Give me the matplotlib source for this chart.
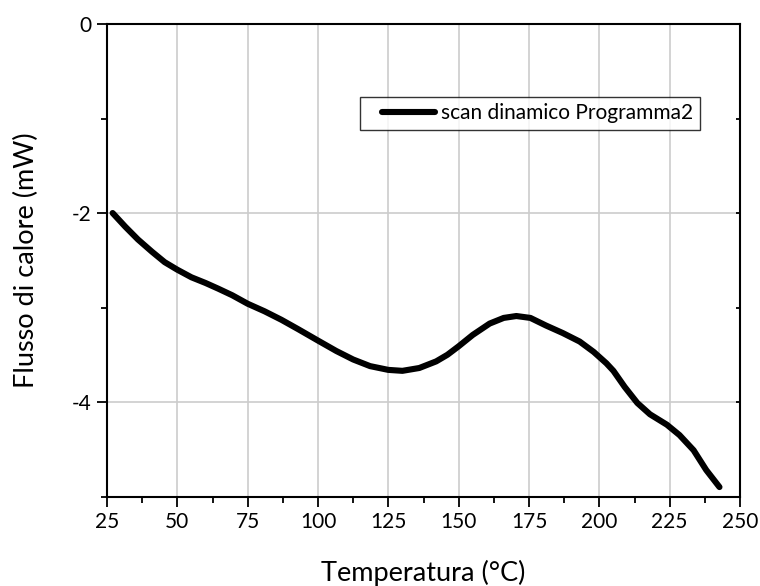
import matplotlib.pyplot as plt
from matplotlib.ticker import MultipleLocator
from matplotlib.legend_handler import HandlerLine2D

# scansione DSC dinamica, Programma2
temperatura = [27, 31.5, 36, 41, 45.5, 50, 55, 60, 64.5, 69.5, 75, 81, 87, 93, 100,
               106.5, 112.5, 118.5, 125, 130, 136, 142, 146, 150, 155, 161, 166,
               170.5, 175.5, 181, 187, 193, 198, 202.5, 205, 209, 213.5, 218, 224,
               228.5, 233.5, 238, 242.7]
flusso = [-2.00, -2.145, -2.28, -2.41, -2.52, -2.60, -2.68, -2.74, -2.80, -2.87, -2.96,
          -3.04, -3.13, -3.23, -3.35, -3.46, -3.55, -3.62, -3.66, -3.67, -3.64, -3.57,
          -3.50, -3.41, -3.29, -3.17, -3.11, -3.09, -3.11, -3.19, -3.27, -3.36, -3.47,
          -3.59, -3.67, -3.84, -4.01, -4.13, -4.24, -4.35, -4.51, -4.72, -4.90]

plt.rcParams['font.family'] = ['Lato', 'DejaVu Sans']
plt.rcParams['axes.unicode_minus'] = False

fig = plt.figure(figsize=(7.6, 5.86), dpi=100)
ax = fig.add_axes([0.1408, 0.1527, 0.8329, 0.8063])

ax.plot(temperatura, flusso, color='black', linewidth=4.4,
        solid_capstyle='round', solid_joinstyle='round', label='scan dinamico Programma2')

ax.set_xlim(25, 250)
ax.set_ylim(-5, 0)
ax.xaxis.set_major_locator(MultipleLocator(25))
ax.xaxis.set_minor_locator(MultipleLocator(12.5))
ax.yaxis.set_major_locator(MultipleLocator(2))
ax.yaxis.set_minor_locator(MultipleLocator(1))

ax.grid(True, which='major', color='#cccccc', linewidth=1.2)
ax.set_axisbelow(True)

for s in ax.spines.values():
    s.set_linewidth(1.5)
    s.set_color('black')

ax.tick_params(axis='both', which='major', direction='out', length=7, width=1.3,
               labelsize=15, pad=4)
ax.tick_params(axis='both', which='minor', direction='out', length=4, width=1.3)
ax.tick_params(axis='y', which='both', right=True, labelright=False)

# tacche interne sull'asse destro
for t in ax.yaxis.get_major_ticks() + ax.yaxis.get_minor_ticks():
    t.tick2line.set_marker(0)
    t.tick2line.set_markersize(3)

ax.set_xlabel('Temperatura (°C)', fontsize=19.5, labelpad=20)
ax.set_ylabel('Flusso di calore (mW)', fontsize=19.5, labelpad=24)

leg = ax.legend(loc='upper left', bbox_to_anchor=(360 / 760, 1 - 97 / 586),
                bbox_transform=fig.transFigure, fontsize=15, frameon=True,
                fancybox=False, handlelength=3.3, handletextpad=0.3,
                borderpad=0.3, borderaxespad=0,
                handler_map={ax.lines[0]: HandlerLine2D(xpad=0.77)})
leg.get_frame().set_edgecolor('black')
leg.get_frame().set_linewidth(1.0)

fig.savefig('out.png', dpi=100)
